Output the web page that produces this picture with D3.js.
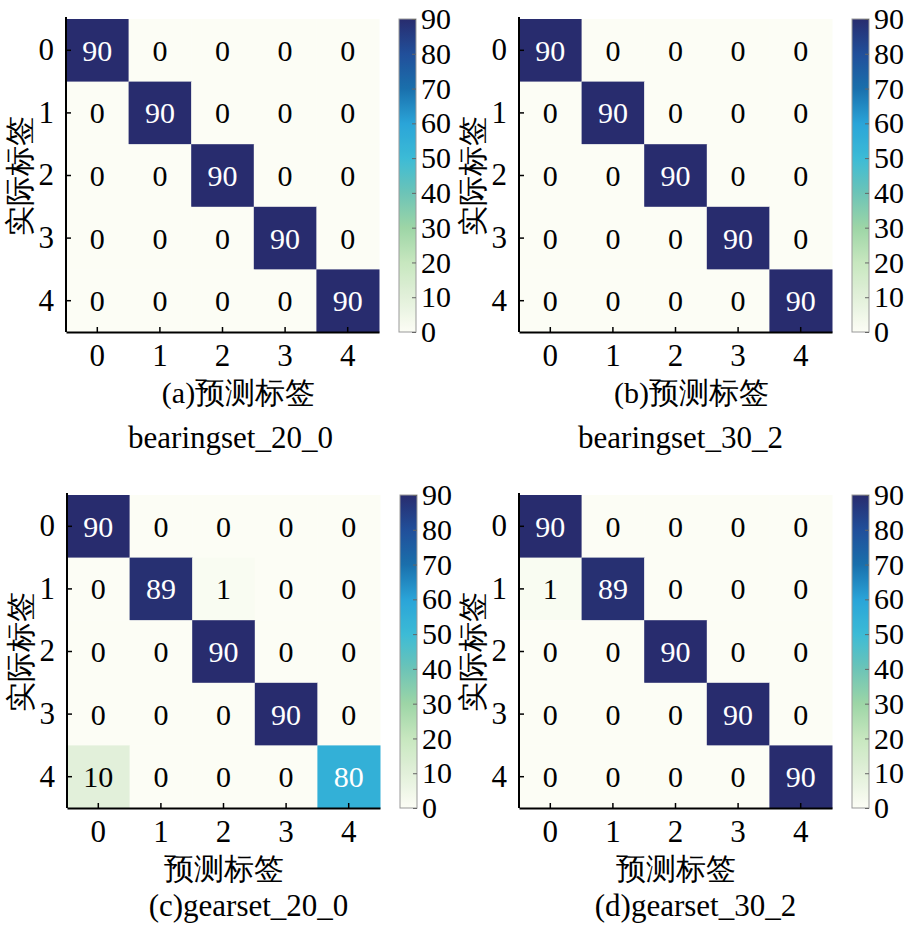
<!DOCTYPE html>
<html>
<head>
<meta charset="utf-8">
<script src="https://cdn.jsdelivr.net/npm/d3@7"></script>
<style>
  body { margin: 0; background: #fff; }
</style>
</head>
<body>
<svg id="chart" width="908" height="933" font-family="Liberation Serif"></svg>
<script>
// class labels (both axes)
const classes = [0, 1, 2, 3, 4]

// confusion matrices, rows = actual, cols = predicted
const bearing20 = [
  [90, 0, 0, 0, 0],
  [0, 90, 0, 0, 0],
  [0, 0, 90, 0, 0],
  [0, 0, 0, 90, 0],
  [0, 0, 0, 0, 90]
]
const bearing30 = [
  [90, 0, 0, 0, 0],
  [0, 90, 0, 0, 0],
  [0, 0, 90, 0, 0],
  [0, 0, 0, 90, 0],
  [0, 0, 0, 0, 90]
]
const gear20 = [
  [90, 0, 0, 0, 0],
  [0, 89, 1, 0, 0],
  [0, 0, 90, 0, 0],
  [0, 0, 0, 90, 0],
  [10, 0, 0, 0, 80]
]
// the 80 cell of (c) is shaded like ~57 on the colour bar in the source
const gear20Shade = [
  [90, 0, 0, 0, 0],
  [0, 89, 1, 0, 0],
  [0, 0, 90, 0, 0],
  [0, 0, 0, 90, 0],
  [10, 0, 0, 0, 55]
]
const gear30 = [
  [90, 0, 0, 0, 0],
  [1, 89, 0, 0, 0],
  [0, 0, 90, 0, 0],
  [0, 0, 0, 90, 0],
  [0, 0, 0, 0, 90]
]

const colorTicks = [0, 10, 20, 30, 40, 50, 60, 70, 80, 90]
const colorStops = ["#fcfdf5", "#e2f0da", "#c7e7bf", "#9dd5a6", "#6cc4b7",
  "#3cbbd6", "#2aa4d8", "#1a6fac", "#214f9a", "#282c6e"]

const yLabel = "实际标签"
const xLabels = ["(a)预测标签", "(b)预测标签", "预测标签", "预测标签"]
const titles = ["bearingset_20_0", "bearingset_30_2", "(c)gearset_20_0", "(d)gearset_30_2"]

const panels = [
  { m: bearing20, shade: bearing20, x: 66, y: 19, xlabDy: 71, titleDy: 116, titleDx: 8 },
  { m: bearing30, shade: bearing30, x: 519, y: 19, xlabDy: 71, titleDy: 116, titleDx: 5 },
  { m: gear20, shade: gear20Shade, x: 67, y: 495, xlabDy: 71, titleDy: 108, titleDx: 25 },
  { m: gear30, shade: gear30, x: 519, y: 495, xlabDy: 71, titleDy: 108, titleDx: 20 }
]

const size = 313
const font = "Liberation Serif"
const color = d3.scaleLinear().domain(colorTicks).range(colorStops).interpolate(d3.interpolateRgb)

const svg = d3.select("#chart")

// shared gradient for colour bars
const grad = svg.append("defs").append("linearGradient")
  .attr("id", "cbar").attr("x1", 0).attr("y1", 1).attr("x2", 0).attr("y2", 0)
d3.range(0, 91, 2).forEach(v => {
  grad.append("stop").attr("offset", v / 90).attr("stop-color", color(v))
})

panels.forEach((p, i) => {
  const g = svg.append("g").attr("transform", `translate(${p.x},${p.y})`)

  const x = d3.scaleBand().domain(classes).range([0, size])
  const y = d3.scaleBand().domain(classes).range([0, size])

  const cells = []
  p.m.forEach((row, r) => row.forEach((v, c) => cells.push({ r, c, v, s: p.shade[r][c] })))

  g.selectAll("rect.cell")
    .data(cells)
    .join("rect")
    .attr("class", "cell")
    .attr("x", d => x(d.c))
    .attr("y", d => y(d.r))
    .attr("width", x.bandwidth() + 0.5)
    .attr("height", y.bandwidth() + 0.5)
    .attr("fill", d => color(d.s))

  g.selectAll("text.val")
    .data(cells)
    .join("text")
    .attr("class", "val")
    .attr("x", d => x(d.c) + x.bandwidth() / 2)
    .attr("y", d => y(d.r) + y.bandwidth() / 2)
    .attr("dy", "0.35em")
    .attr("text-anchor", "middle")
    .attr("font-size", 30)
    .attr("font-family", font)
    .attr("fill", d => d.s > 45 ? "#fff" : "#000")
    .text(d => d.v)

  // axes, ticks inward
  const xAxis = g.append("g").attr("transform", `translate(0,${size})`)
    .call(d3.axisBottom(x).tickSizeInner(-5).tickSizeOuter(0).tickPadding(12))
  const yAxis = g.append("g")
    .call(d3.axisLeft(y).tickSizeInner(-5).tickSizeOuter(0).tickPadding(12))
  ;[xAxis, yAxis].forEach(a => {
    a.attr("font-family", font)
    a.select(".domain").attr("stroke", "#000").attr("stroke-width", 2)
    a.selectAll(".tick line").attr("stroke", "#000").attr("stroke-width", 1.5)
    a.selectAll("text").attr("font-size", 31).attr("fill", "#000")
      .attr("font-family", font)
  })
  yAxis.select(".domain").attr("d", `M0,-2V${size}`)

  // labels
  g.append("text")
    .attr("transform", `translate(-36,${size / 2}) rotate(-90)`)
    .attr("text-anchor", "middle")
    .attr("font-size", 30)
    .attr("font-family", font)
    .text(yLabel)

  g.append("text")
    .attr("x", size / 2 + (i < 2 ? 16 : 0))
    .attr("y", size + p.xlabDy)
    .attr("text-anchor", "middle")
    .attr("font-size", 30)
    .attr("font-family", font)
    .text(xLabels[i])

  g.append("text")
    .attr("x", size / 2 + p.titleDx)
    .attr("y", size + p.titleDy)
    .attr("text-anchor", "middle")
    .attr("font-size", 31)
    .attr("font-family", font)
    .text(titles[i])

  // colour bar
  const cb = g.append("g").attr("transform", `translate(${size + 20},0)`)
  const cs = d3.scaleLinear().domain([0, 90]).range([size, 0])
  cb.append("rect")
    .attr("width", 17).attr("height", size)
    .attr("fill", "url(#cbar)")
    .attr("stroke", "#999").attr("stroke-width", 1)
  const cAxis = cb.append("g").attr("transform", "translate(17,0)")
    .call(d3.axisRight(cs).tickValues(colorTicks).tickSizeInner(-4).tickSizeOuter(0).tickPadding(5))
  cAxis.attr("font-family", font)
  cAxis.select(".domain").remove()
  cAxis.selectAll(".tick line").attr("stroke", "#666")
  cAxis.selectAll("text").attr("font-size", 30).attr("fill", "#000")
    .attr("font-family", font)
})
</script>
</body>
</html>
